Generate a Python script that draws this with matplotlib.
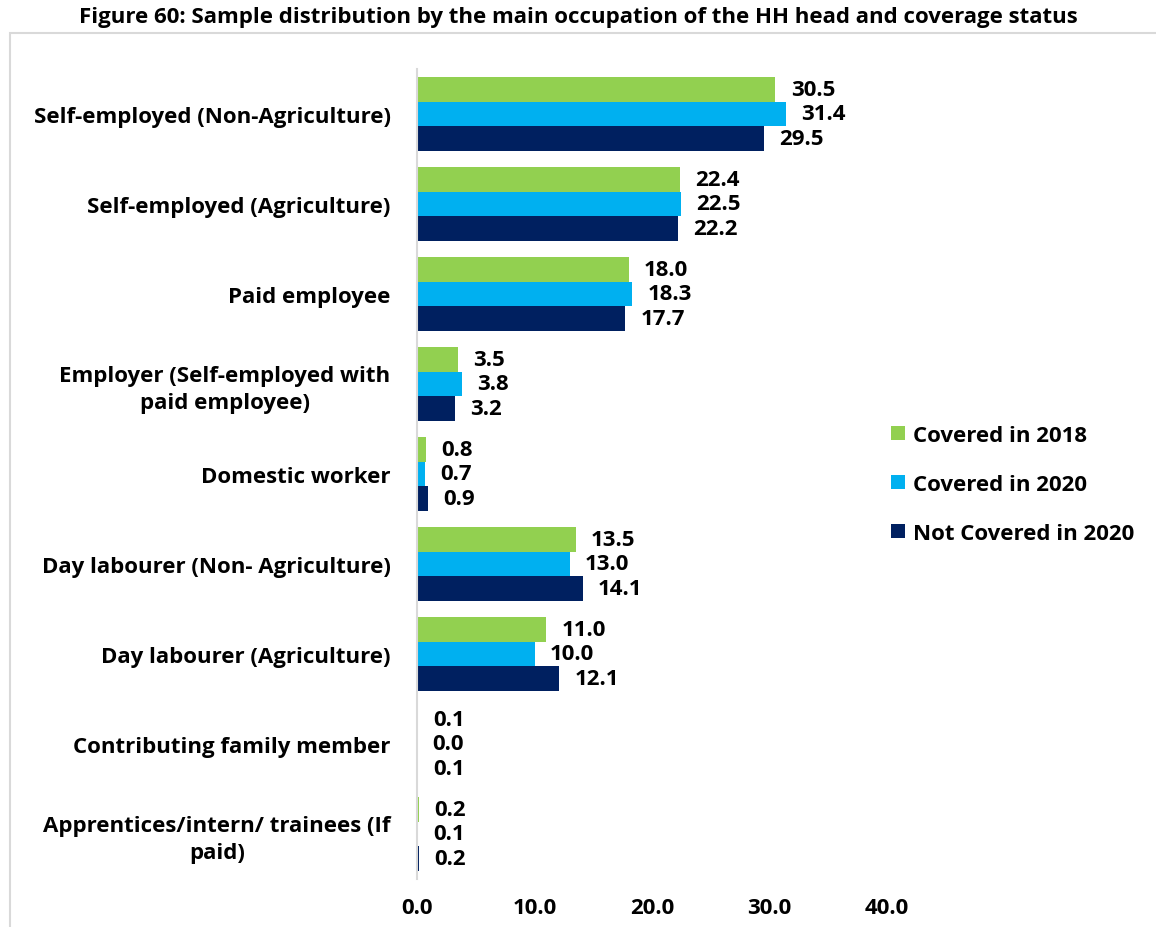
import numpy as np
import matplotlib as mpl
mpl.use('Agg')
import matplotlib.pyplot as plt
from matplotlib.patches import Rectangle

plt.rcParams['font.family'] = ['Open Sans', 'DejaVu Sans']

categories = ['Self-employed (Non-Agriculture)',
              'Self-employed (Agriculture)',
              'Paid employee',
              'Employer (Self-employed with\npaid employee)',
              'Domestic worker',
              'Day labourer (Non- Agriculture)',
              'Day labourer (Agriculture)',
              'Contributing family member',
              'Apprentices/intern/ trainees (If\npaid)']
covered_2018 = [30.5, 22.4, 18.0, 3.5, 0.8, 13.5, 11.0, 0.1, 0.2]
covered_2020 = [31.4, 22.5, 18.3, 3.8, 0.7, 13.0, 10.0, 0.0, 0.1]
not_covered_2020 = [29.5, 22.2, 17.7, 3.2, 0.9, 14.1, 12.1, 0.1, 0.2]
series_names = ['Covered in 2018', 'Covered in 2020', 'Not Covered in 2020']
colors = ['#92D050', '#00B0F0', '#002060']
xticks = [0, 10, 20, 30, 40]

fs = 16
fig = plt.figure(figsize=(11.56, 9.28), dpi=100)
# axes placed in pixel terms: x 417..887, y 70..880 (from top)
W, H = 1156, 928
ax = fig.add_axes([417/W, 1-880/H, (887-417)/W, (880-70)/H])

# light frame around the chart area
fig.patches.append(Rectangle((10/W, -0.05), 1.2, 1-34/H+0.05, transform=fig.transFigure,
                             fill=False, edgecolor='#d9d9d9', linewidth=1.5))

y = np.arange(len(categories))
h = 0.275
allseries = [covered_2018, covered_2020, not_covered_2020]
for i, (vals, name, c) in enumerate(zip(allseries, series_names, colors)):
    pos = y + (i-1)*h
    ax.barh(pos, vals, height=h, color=c, label=name)
    for p, v in zip(pos, vals):
        ax.annotate('%.1f' % v, (v, p), xytext=(11, 0), textcoords='offset points',
                    va='center', ha='left', fontsize=fs, fontweight='bold')

ax.set_xlim(0, 40)
ax.set_ylim(len(categories)-0.5, -0.5)
ax.set_yticks(y)
ax.set_yticklabels(categories, fontsize=fs, fontweight='bold')
for lab in ax.get_yticklabels():
    lab.set_multialignment('center')
    lab.set_linespacing(1.35)
ax.set_xticks(xticks)
ax.set_xticklabels(['%.1f' % t for t in xticks], fontsize=fs, fontweight='bold')
ax.tick_params(axis='y', length=0, pad=19)
ax.tick_params(axis='x', length=0, pad=13)
for s in ['top', 'right', 'bottom']:
    ax.spines[s].set_visible(False)
ax.spines['left'].set_color('#d9d9d9')
ax.spines['left'].set_linewidth(1.5)

leg = ax.legend(loc='center left', bbox_to_anchor=(0.967, 0.487), frameon=False,
                prop={'size': fs, 'weight': 'bold'}, handlelength=0.6, handleheight=0.6,
                handletextpad=0.35, labelspacing=1.25)

fig.text(0.5, 1-18/H, 'Figure 60: Sample distribution by the main occupation of the HH head and coverage status',
         ha='center', va='center', fontsize=fs, fontweight='bold')

plt.savefig('out.png', dpi=100)
